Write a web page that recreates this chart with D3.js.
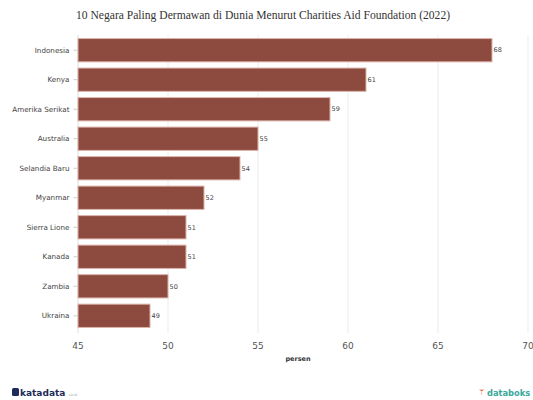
<!DOCTYPE html>
<html><head><meta charset="utf-8">
<script src="https://cdn.jsdelivr.net/npm/d3@7"></script>
<style>body{margin:0;background:#fff}svg{display:block}</style>
</head><body>
<svg id="c" width="533" height="400"></svg>
<script>
const categories = ["Indonesia","Kenya","Amerika Serikat","Australia","Selandia Baru","Myanmar","Sierra Lione","Kanada","Zambia","Ukraina"];
const values = [68,61,59,55,54,52,51,51,50,49];
const xTicks = [45,50,55,60,65,70];
const titleText = "10 Negara Paling Dermawan di Dunia Menurut Charities Aid Foundation (2022)";
const xLabel = "persen";

const svg = d3.select("#c");
const m = {l:77.5, r:5.5, t:35, b:69};
const W = 533, H = 400;
const x = d3.scaleLinear().domain([45,70]).range([m.l, W - m.r]);
const y = d3.scaleBand().domain(categories).range([m.t, H - m.b]).paddingInner(0.21).paddingOuter(0.12);

svg.append("text").attr("x", 263).attr("y", 19).attr("text-anchor","middle")
  .attr("font-family","'Liberation Serif', serif").attr("font-size",11.6).attr("fill","#333").text(titleText);

// gridlines
svg.append("g").selectAll("line").data(xTicks.slice(1)).join("line")
  .attr("x1", d=>x(d)+0.5).attr("x2", d=>x(d)+0.5).attr("y1", m.t).attr("y2", H-m.b+2)
  .attr("stroke","#ececec").attr("stroke-width",1);

// y axis
const ya = svg.append("g").attr("transform",`translate(${m.l},0)`)
  .call(d3.axisLeft(y).tickSize(4).tickPadding(4));
ya.select(".domain").attr("stroke","#e0e0e0").attr("d",`M0.5,${m.t}V${H-m.b+2}`);
ya.selectAll(".tick line").attr("stroke","#ccc");
ya.selectAll(".tick text").attr("font-family","'DejaVu Sans', Verdana, sans-serif").attr("font-size",7.2).attr("fill","#444");

// x axis
const xa = svg.append("g").attr("transform",`translate(0,${H-m.b})`)
  .call(d3.axisBottom(x).tickValues(xTicks).tickSize(0).tickPadding(12));
xa.select(".domain").remove();
xa.selectAll(".tick text").attr("font-family","'DejaVu Sans', Verdana, sans-serif").attr("font-size",9).attr("fill","#555");

svg.append("text").attr("x", 298).attr("y", 361).attr("text-anchor","middle")
  .attr("font-family","'DejaVu Sans', Verdana, sans-serif").attr("font-size",6.5).attr("font-weight","bold").attr("fill","#333").text(xLabel);

// bars
svg.append("g").selectAll("rect").data(values).join("rect")
  .attr("x", x(45)+0.5).attr("y", (d,i)=>y(categories[i]))
  .attr("width", d=>x(d)-x(45)).attr("height", y.bandwidth())
  .attr("fill","#8d4b40").attr("stroke","#dcb3aa").attr("stroke-width",1);

svg.append("g").selectAll("text").data(values).join("text")
  .attr("x", d=>x(d)+2).attr("y", (d,i)=>y(categories[i])+y.bandwidth()/2)
  .attr("dy","0.35em").attr("font-family","'DejaVu Sans', Verdana, sans-serif").attr("font-size",6.5).attr("fill","#444").text(d=>d);

// footer logos
const f = svg.append("g");
f.append("rect").attr("x",12).attr("y",388).attr("width",7).attr("height",8).attr("rx",1.5).attr("fill","#1c2b5a");
f.append("text").attr("x",20).attr("y",396).attr("font-family","'DejaVu Sans', sans-serif").attr("font-size",9).attr("font-weight","bold").attr("fill","#1c2b5a").text("katadata");
f.append("text").attr("x",69).attr("y",396).attr("font-family","'DejaVu Sans', sans-serif").attr("font-size",3.5).attr("fill","#9aa").text("co.id");
f.append("text").attr("x",479).attr("y",396).attr("font-family","'DejaVu Sans', sans-serif").attr("font-size",9).attr("fill","#e0603a").text("ᛘ");
f.append("text").attr("x",487).attr("y",396).attr("font-family","'DejaVu Sans', sans-serif").attr("font-size",8.3).attr("font-weight","bold").attr("fill","#3aa89a").text("databoks");
</script>
</body></html>
